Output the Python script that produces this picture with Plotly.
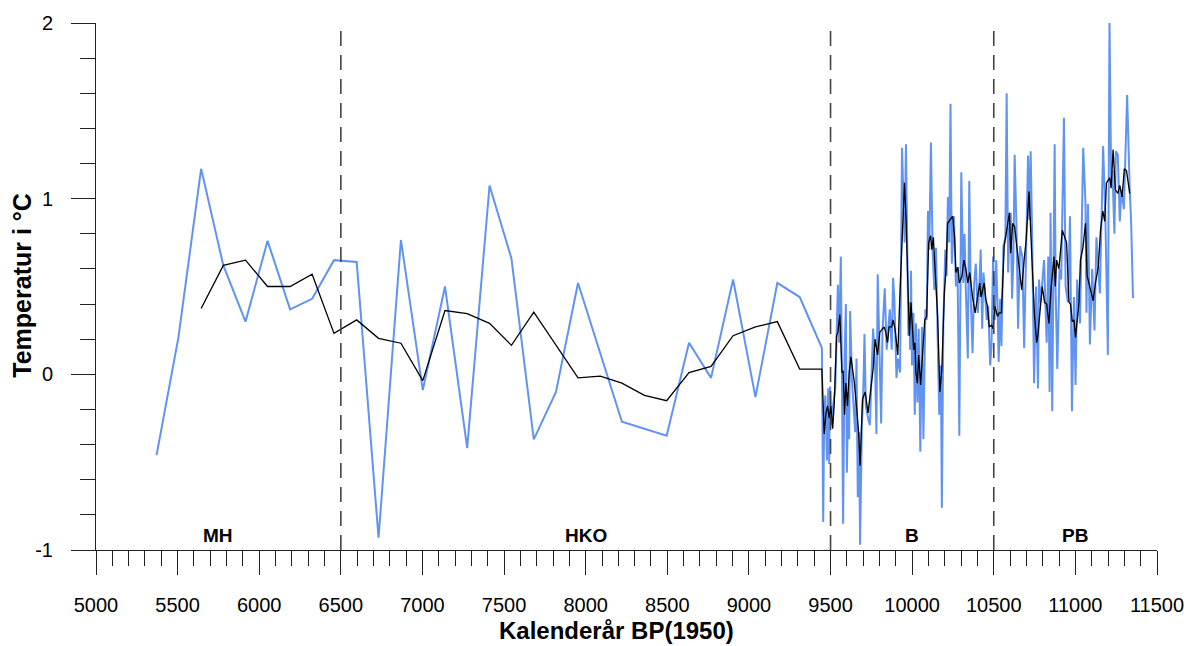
import plotly.graph_objects as go

# Blue series: temperature reconstruction (°C) vs calendar years BP
blue_years = [5371, 5505, 5644, 5780, 5916, 6051, 6189, 6324, 6458, 6597, 6731, 6868, 7002, 7138, 7274,
              7411, 7545, 7682, 7818, 7953, 8222, 8496, 8633, 8768, 8903, 9040, 9174, 9311, 9447,
              9455, 9461, 9468, 9478, 9486, 9492, 9496, 9507, 9516, 9529, 9537, 9545, 9553, 9563, 9570,
              9577, 9586, 9594, 9600, 9608, 9614, 9620, 9631, 9639, 9651, 9659, 9667, 9675, 9681, 9692,
              9700, 9708, 9716, 9730, 9741, 9753, 9761, 9773, 9781, 9789, 9802, 9810, 9818, 9832, 9844,
              9855, 9863, 9875, 9883, 9891, 9904, 9914, 9926, 9938, 9946, 9954, 9962, 9971, 9977, 9983,
              9987, 9993, 9999, 10008, 10016, 10023, 10032, 10040, 10050, 10060, 10069, 10081, 10089,
              10097, 10105, 10115, 10125, 10136, 10146, 10156, 10166, 10176, 10182, 10191, 10203, 10211,
              10219, 10227, 10235, 10243, 10256, 10268, 10278, 10289, 10301, 10313, 10321, 10329, 10341,
              10350, 10359, 10370, 10380, 10390, 10402, 10411, 10420, 10429, 10437, 10445, 10457, 10466,
              10478, 10486, 10496, 10506, 10515, 10523, 10530, 10539, 10547, 10559, 10571, 10579, 10588,
              10596, 10604, 10612, 10620, 10628, 10639, 10649, 10661, 10675, 10686, 10698, 10710, 10718,
              10726, 10736, 10747, 10759, 10771, 10777, 10787, 10808, 10824, 10834, 10842, 10848, 10858,
              10873, 10879, 10889, 10903, 10913, 10930, 10940, 10954, 10967, 10979, 10991, 11001, 11011,
              11028, 11048, 11062, 11068, 11077, 11089, 11103, 11117, 11129, 11150, 11170, 11184, 11199,
              11209, 11219, 11227, 11239, 11248, 11260, 11272, 11282, 11297, 11317, 11333, 11341, 11353]
blue_temp = [-0.46, 0.21, 1.17, 0.62, 0.30, 0.76, 0.37, 0.43, 0.65, 0.64, -0.93, 0.765, -0.09, 0.50, -0.42,
             1.075, 0.66, -0.37, -0.10, 0.52, -0.27, -0.35, 0.18, -0.02, 0.54, -0.13, 0.52, 0.44, 0.15,
             -0.84, -0.25, -0.12, -0.49, -0.08, -0.51, -0.07, -0.29, -0.18, -0.08, 0.24, 0.51, 0.18, 0.67, -0.03,
             -0.85, 0.09, 0.40, -0.56, -0.10, -0.37, 0.36, -0.03, -0.15, -0.33, 0.09, -0.70, -0.33, -0.97, -0.29,
             -0.12, 0.23, -0.18, -0.25, -0.29, 0.05, 0.26, 0.05, -0.34, 0.57, 0.07, -0.28, 0.24, 0.49, 0.14,
             0.25, 0.37, 0.14, 0.55, 0.43, -0.02, 0.09, 0.01, 1.29, 1.08, 0.75, 1.31, 0.59, 0.22, 0.41,
             0.14, 0.59, 0.05, 0.35, -0.23, 0.29, -0.16, 0.26, -0.44, 0.27, -0.37, 0.37, 0.31,
             0.93, 0.71, 1.32, 0.71, 0.48, 0.72, 0.22, -0.23, 0.05, -0.76, 0.29, 0.71, 0.56,
             1.01, 0.75, 1.54, 0.63, 0.90, 0.50, 0.61, -0.35, 1.15, 0.52, 0.80, 0.48, 0.09,
             1.10, 0.44, 0.12, 0.52, 0.63, 0.35, 0.48, 0.71, 0.26, 0.58, 0.48, 0.31, 0.39,
             0.05, 0.16, 0.67, 0.31, 0.65, 0.39, 0.07, 0.43, 0.16, 0.73, 0.78, 1.60, 0.58,
             0.80, 0.92, 0.43, 0.65, 1.25, 0.84, 0.26, 0.73, 0.67, 0.15, 0.69, 1.245, 0.88,
             1.27, 0.73, -0.05, 0.50, -0.08, 0.54, 0.41, 0.65, 0.18, 0.67, -0.10, 0.92, -0.21,
             1.31, 0.48, 0.03, 0.60, 0.54, 1.46, 0.50, 0.41, 0.90, -0.21, 0.44, -0.06, 0.54,
             0.29, 1.29, 0.97, 0.35, 0.97, 0.17, 0.60, 0.25, 0.78, 0.46, 1.30, 0.88, 0.11,
             2.02, 1.12, 1.16, 0.80, 1.27, 1.25, 0.87, 1.05, 0.94, 1.59, 1.05, 0.88, 0.435]

# Black series: smoothed temperature
black_years = [5644, 5780, 5916, 6051, 6189, 6324, 6458, 6597, 6731, 6868, 7002, 7138, 7274, 7411, 7545,
               7682, 7953, 8089, 8222, 8360, 8496, 8633, 8768, 8903, 9040, 9174, 9311, 9447,
               9461, 9472, 9482, 9492, 9502, 9513, 9522, 9537, 9545, 9557, 9570, 9577, 9586, 9594, 9604,
               9614, 9625, 9645, 9659, 9672, 9681, 9696, 9712, 9730, 9747, 9761, 9773, 9788, 9802, 9818,
               9828, 9838, 9849, 9859, 9875, 9883, 9895, 9904, 9912, 9926, 9938, 9953, 9962, 9973, 9983,
               9993, 10003, 10009, 10017, 10023, 10032, 10040, 10052, 10064, 10077, 10089, 10101, 10113,
               10121, 10130, 10146, 10156, 10170, 10182, 10197, 10207, 10217, 10231, 10248, 10260, 10268,
               10280, 10289, 10305, 10317, 10329, 10341, 10353, 10370, 10386, 10400, 10414, 10422, 10431,
               10441, 10451, 10461, 10472, 10486, 10496, 10506, 10523, 10533, 10547, 10564, 10579, 10596,
               10604, 10616, 10628, 10640, 10655, 10671, 10686, 10698, 10716, 10726, 10736, 10750, 10763,
               10770, 10783, 10797, 10811, 10824, 10838, 10852, 10869, 10877, 10885, 10899, 10920, 10946,
               10961, 10970, 10981, 10991, 11001, 11022, 11031, 11046, 11062, 11072, 11093, 11109, 11123,
               11140, 11154, 11168, 11180, 11190, 11211, 11219, 11231, 11245, 11260, 11272, 11286, 11300,
               11313, 11333]
black_temp = [0.375, 0.62, 0.65, 0.50, 0.50, 0.57, 0.233, 0.31, 0.205, 0.177, -0.036, 0.363, 0.345, 0.29, 0.165,
              0.354, -0.02, -0.01, -0.05, -0.12, -0.15, 0.01, 0.045, 0.22, 0.27, 0.30, 0.03, 0.03,
              -0.34, -0.22, -0.18, -0.25, -0.18, -0.31, -0.18, 0.22, 0.24, 0.34, 0.01, 0.02, -0.23, -0.05, -0.18,
              0.01, 0.10, -0.04, -0.18, -0.33, -0.52, -0.14, -0.10, -0.22, -0.08, 0.03, 0.20, 0.11, 0.24, 0.26,
              0.27, 0.24, 0.18, 0.27, 0.27, 0.31, 0.26, 0.18, 0.11, 0.48, 0.80, 1.09, 0.90, 0.52, 0.22,
              0.41, 0.26, 0.14, 0.18, 0.01, -0.05, 0.11, -0.06, 0.14, 0.31, 0.33, 0.75, 0.79,
              0.71, 0.78, 0.52, 0.33, -0.10, 0.03, 0.46, 0.59, 0.86, 0.88, 0.90, 0.78, 0.58,
              0.61, 0.52, 0.56, 0.65, 0.60, 0.52, 0.58, 0.44, 0.35, 0.43, 0.52, 0.44, 0.49,
              0.52, 0.43, 0.39, 0.27, 0.28, 0.26, 0.39, 0.33, 0.35, 0.35, 0.73, 0.82, 0.92,
              0.69, 0.86, 0.84, 0.73, 0.61, 0.48, 0.65, 0.76, 1.04, 0.86, 0.61, 0.33, 0.18,
              0.22, 0.36, 0.50, 0.41, 0.40, 0.29, 0.50, 0.67, 0.50, 0.65, 0.60, 0.82, 0.75,
              0.41, 0.40, 0.30, 0.31, 0.21, 0.41, 0.65, 0.72, 0.86, 0.56, 0.48, 0.42, 0.52,
              0.61, 0.82, 0.93, 0.87, 1.09, 1.12, 1.06, 1.28, 1.05, 1.03, 1.075, 1.01, 1.17,
              1.16, 1.03]

# Period boundaries and labels
boundaries = [6500, 9500, 10500]
period_names = ["MH", "HKO", "B", "PB"]
period_label_x = [5750, 8000, 10000, 11000]

x_tick_vals = list(range(5000, 11501, 500))
y_tick_vals = [-1, 0, 1, 2]

FONT = "Liberation Sans, Arial, sans-serif"

fig = go.Figure()
fig.add_trace(go.Scatter(x=blue_years, y=blue_temp, mode="lines",
                         line=dict(color="#6193f2", width=2), hoverinfo="skip"))
fig.add_trace(go.Scatter(x=black_years, y=black_temp, mode="lines",
                         line=dict(color="#000000", width=1.3), hoverinfo="skip"))

for b in boundaries:
    fig.add_shape(type="line", x0=b, x1=b, y0=-1, y1=1.97, xref="x", yref="y",
                  line=dict(color="#444444", width=1.6, dash="15px,9px"), layer="above")

for name, lx in zip(period_names, period_label_x):
    fig.add_annotation(x=lx, y=-0.915, xref="x", yref="y", text="<b>%s</b>" % name,
                       showarrow=False, font=dict(family=FONT, size=19, color="black"),
                       xanchor="center", yanchor="middle")

fig.add_annotation(x=0.4906, y=-0.152, xref="paper", yref="paper",
                   text="<b>Kalenderår BP(1950)</b>", showarrow=False,
                   font=dict(family=FONT, size=24, color="black"), xanchor="center", yanchor="middle")
fig.add_annotation(x=-0.0695, y=0.502, xref="paper", yref="paper",
                   text="<b>Temperatur i °C</b>", showarrow=False, textangle=-90,
                   font=dict(family=FONT, size=25, color="black"), xanchor="center", yanchor="middle")

fig.update_layout(
    width=1196, height=646,
    margin=dict(l=96, r=36, t=15, b=96),
    paper_bgcolor="white", plot_bgcolor="white",
    showlegend=False,
    font=dict(family=FONT, color="black"),
    xaxis=dict(range=[5000, 11500], tickvals=x_tick_vals, ticktext=[str(v) for v in x_tick_vals],
               showgrid=False, zeroline=False, showline=True, linecolor="#222", linewidth=1,
               ticks="outside", ticklen=24, tickwidth=1, tickcolor="#222",
               tickfont=dict(family=FONT, size=20, color="black"), ticklabelstandoff=13,
               minor=dict(dtick=100, tick0=5000, ticks="outside", ticklen=15, tickwidth=1,
                          tickcolor="#222", showgrid=False)),
    yaxis=dict(range=[-1, 2], tickvals=y_tick_vals, ticktext=[str(v) for v in y_tick_vals],
               showgrid=False, zeroline=False, showline=True, linecolor="#222", linewidth=1,
               ticks="outside", ticklen=24, tickwidth=1, tickcolor="#222",
               tickfont=dict(family=FONT, size=20, color="black"), ticklabelstandoff=14,
               minor=dict(dtick=0.2, tick0=-1, ticks="outside", ticklen=15, tickwidth=1,
                          tickcolor="#222", showgrid=False)),
)

fig.write_html("out.html")
